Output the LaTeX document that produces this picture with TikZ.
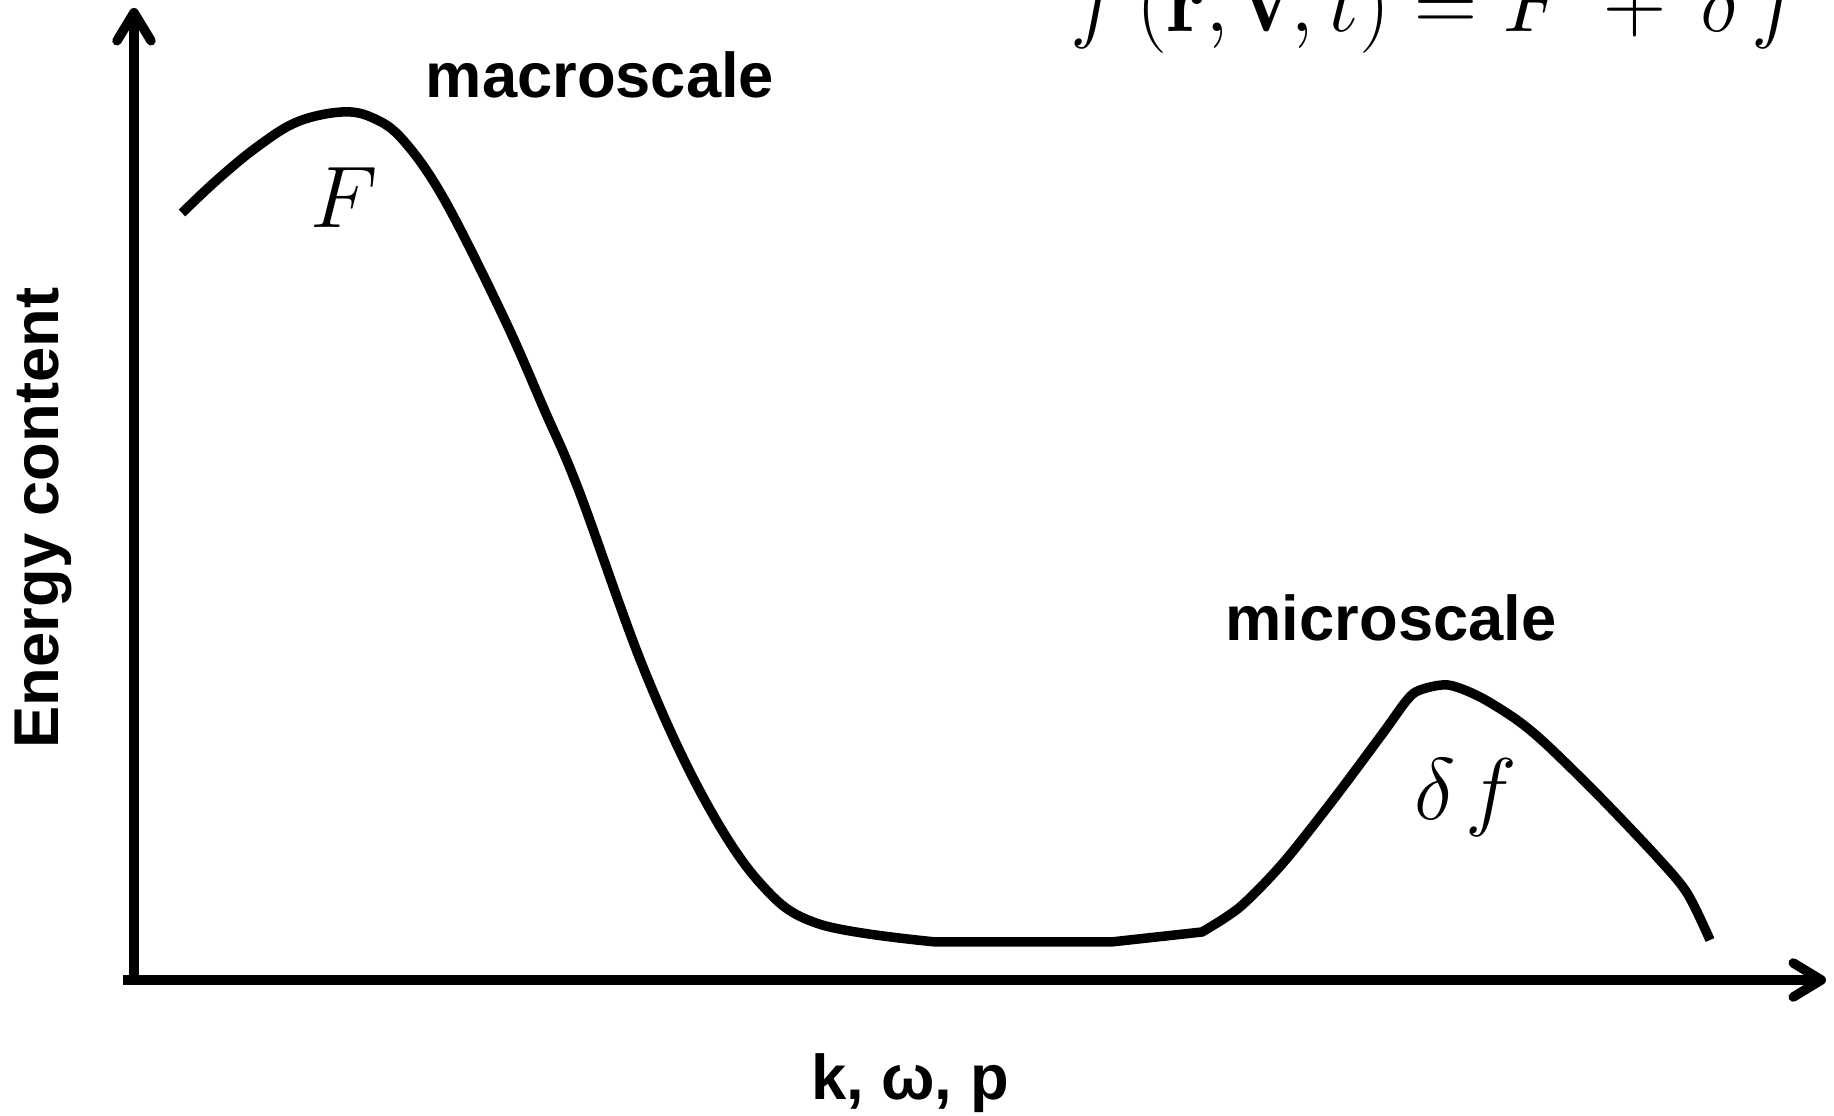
\documentclass[tikz,border=0pt]{standalone}
\usepackage{fontspec}
\setsansfont{Liberation Sans}
\usetikzlibrary{arrows.meta}
\definecolor{inkBlack}{HTML}{000000}

\begin{document}
\begin{tikzpicture}[x=0.01cm,y=0.01cm,
  axis/.style={line width=2.7pt,inkBlack,-{Straight Barb[length=2.8mm,width=3.4mm,round]}},
  spectrum/.style={line width=2.7pt,inkBlack},
  sanslabel/.style={inner sep=0pt,font=\fontsize{18}{22}\selectfont\sffamily\bfseries},
  mathlabel/.style={inner sep=0pt,font=\fontsize{28.5}{33}\selectfont}]
  \clip (0,0) rectangle (1834,1116);
  % axes
  \coordinate (origin) at (134,136);
  \coordinate (xstart) at (123,136);
  \coordinate (xtip) at (1826,136);
  \coordinate (ystart) at (134,131);
  \coordinate (ytip) at (134,1108);
  \draw[axis] (xstart) -- (xtip);
  \draw[axis] (ystart) -- (ytip);
  % energy spectrum: macroscale hump, flat gap, microscale hump
  \draw[spectrum] plot[smooth,tension=0.6] coordinates {
    (182,903) (217,936) (257,969) (297,994) (342,1004) (373,998) (403,976)
    (444,917) (503,800) (544,707) (579,625) (643,449) (702,321) (760,233)
    (819,192) (936,174)}
    -- (1111,174)
    -- plot[smooth,tension=0.5] coordinates {
    (1202,184) (1240,209) (1283,253) (1333,316) (1383,383) (1407,416)
    (1420,426) (1448,431) (1480,419) (1517,396) (1547,371) (1600,319)
    (1657,259) (1687,223) (1710,176)};
  % labels
  \node[sanslabel] (macro) at (600,1041) {macroscale};
  \node[sanslabel] (micro) at (1391,498) {microscale};
  \node[sanslabel,rotate=90] (ylabel) at (43,598) {Energy content};
  \node[sanslabel] (xlabel) at (910,33) {k, ω, p};
  \node[mathlabel] (bigF) at (344,918) {$F$};
  \node[mathlabel] (smallf) at (1466,318) {$\delta\mkern2mu f$};
  \node[inner sep=0pt,anchor=base west,font=\fontsize{25}{30}\selectfont] (eqn) at (1070,1084)
    {$f\,(\mathbf{r},\mathbf{v},t)=F\,+\,\delta\mkern2mu f$};
\end{tikzpicture}
\end{document}
